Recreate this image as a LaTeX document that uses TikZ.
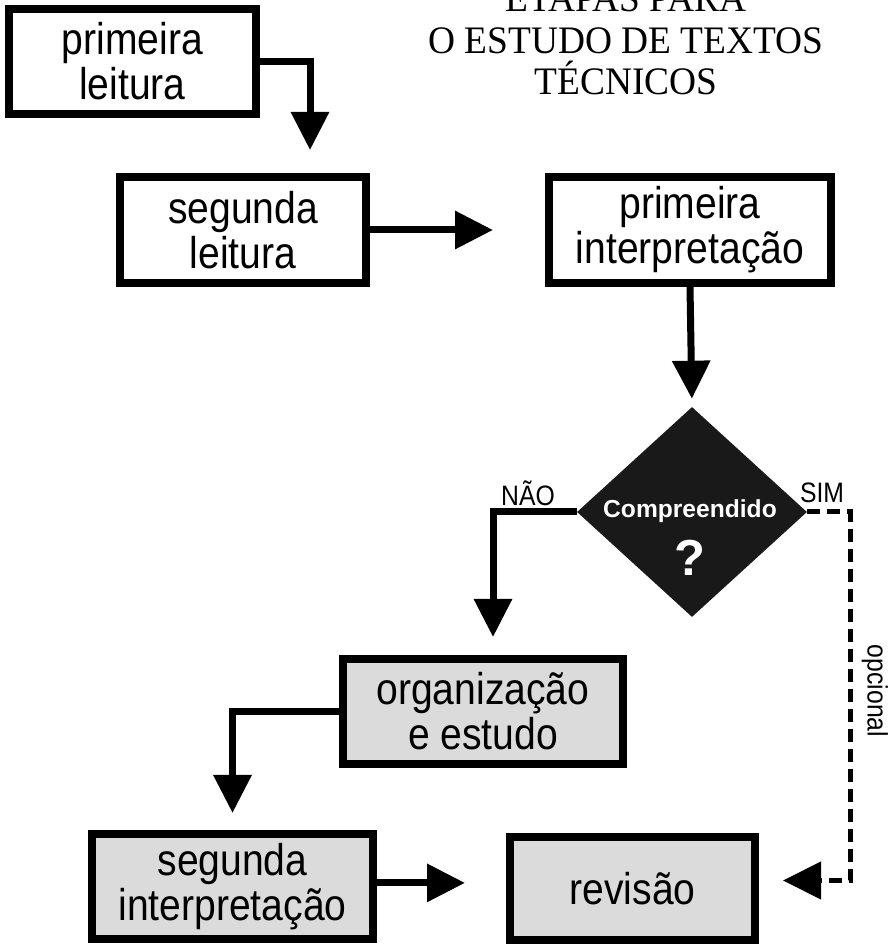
\documentclass[tikz,border=0pt]{standalone}
\usepackage{fontspec}
\setmainfont{Liberation Serif}
\setsansfont{Liberation Sans}
\newfontfamily\boxfont{Liberation Sans}[FakeStretch=0.88]
\newfontfamily\titlefont{Liberation Serif}[FakeStretch=0.96]
\usetikzlibrary{arrows.meta,shapes.geometric,calc}

\begin{document}
\begin{tikzpicture}[
    >={Triangle[width=0.92cm,length=0.95cm]},
    etapa/.style={draw, line width=0.2cm, fill=white, align=center, inner sep=0pt,
        font=\boxfont\fontsize{31.6}{32}\selectfont},
    cinza/.style={etapa, fill=black!14},
    seta/.style={->, line width=0.175cm},
    rotulo/.style={font=\boxfont\fontsize{20}{22}\selectfont}
]
    \useasboundingbox (0,0) rectangle (22.25,23.775);

    % titulo (a primeira linha sai cortada no topo)
    \node[font=\titlefont\fontsize{27.7}{29.8}\selectfont, align=center, anchor=base]
        (titulo) at (15.65,21.4) {ETAPAS PARA\\O ESTUDO DE TEXTOS\\TÉCNICOS};

    % etapas de leitura
    \node[etapa, minimum width=6.175cm, minimum height=2.625cm] (leit1) at (3.3125,22.2375) {primeira\\leitura};
    \node[etapa, minimum width=6.15cm, minimum height=2.65cm] (leit2) at (6.075,18.025) {segunda\\leitura};
    \node[etapa, minimum width=7.05cm, minimum height=2.65cm] (interp1) at (17.25,18.025) {primeira\\interpretação};

    % decisao
    \node[diamond, fill=black!90, minimum width=5.75cm, minimum height=5.25cm, inner sep=0pt] (decisao) at (17.3,10.975) {};
    \node[text=white, font=\sffamily\bfseries\fontsize{17.5}{20}\selectfont] (comp) at (17.25,11.0) {Compreendido};
    \node[text=white, font=\sffamily\bfseries\fontsize{36}{40}\selectfont] (interr) at (17.25,9.825) {?};
    \node[rotulo] (nao) at (13.2,11.45) {NÃO};
    \node[rotulo] (sim) at (20.55,11.45) {SIM};

    % etapas de estudo
    \node[cinza, minimum width=7.0cm, minimum height=2.625cm] (org) at (12.075,5.9875) {organização\\e estudo};
    \node[cinza, minimum width=7.025cm, minimum height=2.625cm] (interp2) at (5.8125,1.6125) {segunda\\interpretação};
    \node[cinza, minimum width=6.125cm, minimum height=2.575cm] (revisao) at (15.8125,1.5625) {revisão};

    % setas
    \draw[seta, shorten >=0.575cm] (leit1.east) -| ($(leit2.north)+(1.675,0)$);
    \draw[seta, shorten >=1.3cm] (leit2.east) -- (interp1.west);
    \draw[seta, shorten >=0.2cm] (interp1.south) -- (decisao.north);
    \draw[seta, shorten >=0.45cm] (decisao.west) -| ([xshift=0.25cm]org.north);
    \draw[seta, shorten >=0.425cm] (org.west) -| (interp2.north);
    \draw[seta, shorten >=1.025cm] ([yshift=0.09cm]interp2.east) -- ([yshift=0.09cm]interp2.east -| revisao.west);

    % caminho opcional
    \draw[seta, line width=0.125cm, dash pattern=on 0.32cm off 0.18cm, shorten >=0.6cm]
        (decisao.east) -- ++(1.075,0) |- ([yshift=0.2cm]revisao.east);
    \node[rotulo, rotate=-90] (opc) at (21.875,6.5) {opcional};
\end{tikzpicture}
\end{document}
